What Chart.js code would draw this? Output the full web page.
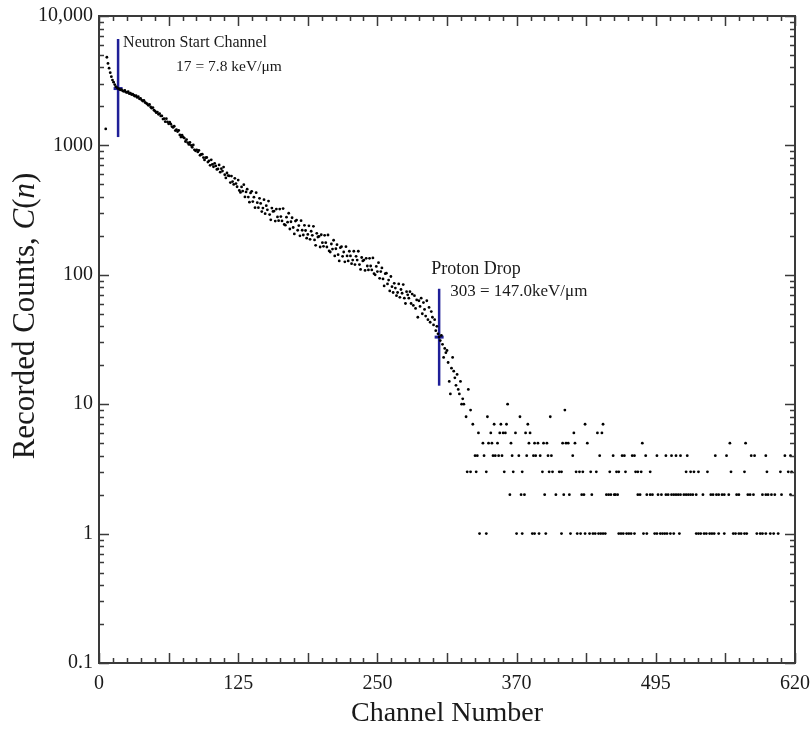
<!DOCTYPE html>
<html>
<head>
<meta charset="utf-8">
<script src="https://cdn.jsdelivr.net/npm/chart.js@4.4.0/dist/chart.umd.min.js"></script>
<style>
    html, body { margin: 0; padding: 0; background: #fff; }
</style>
</head>
<body>
<canvas id="graph" width="811" height="729"></canvas>
<script>
// counts per channel, starting at channel 6 (null = empty channel)
const firstChannel = 6;
const counts = [
    1340, 4800, 4300, 3950, 3650, 3400, 3200, 3080, 2950, 2850,
    2800, 2750, 2720, 2690, 2700, 2640, 2620, 2660, 2580, 2560,
    2600, 2510, 2530, 2470, 2490, 2440, 2400, 2420, 2350, 2380,
    2290, 2310, 2240, 2200, 2230, 2150, 2120, 2090, 2040, 2070,
    1980, 1940, 1960, 1870, 1840, 1790, 1810, 1740, 1760, 1690,
    1691, 1597, 1608, 1525, 1609, 1519, 1467, 1510, 1460, 1397,
    1378, 1406, 1303, 1323, 1279, 1305, 1205, 1160, 1198, 1158,
    1139, 1072, 1109, 1051, 1017, 1053, 1002, 968, 1009, 924,
    908, 925, 890, 914, 839, 852, 855, 805, 772, 804,
    806, 743, 760, 702, 774, 714, 684, 727, 694, 652,
    658, 706, 621, 661, 633, 680, 593, 561, 612, 585,
    581, 516, 579, 525, 499, 557, 507, 479, 540, 448,
    433, 478, 444, 497, 400, 437, 459, 399, 364, 429,
    442, 368, 398, 330, 431, 361, 330, 390, 356, 308,
    328, 381, 297, 342, 318, 371, 292, 266, 328, 309,
    311, 260, 322, 280, 262, 322, 282, 261, 325, 245,
    242, 279, 255, 299, 226, 257, 276, 232, 207, 260,
    265, 221, 240, 200, 262, 221, 203, 241, 220, 192,
    205, 239, 188, 217, 202, 237, 186, 169, 209, 196,
    198, 164, 204, 177, 166, 202, 177, 164, 203, 153,
    150, 173, 158, 185, 140, 159, 171, 143, 128, 162,
    165, 139, 150, 126, 165, 140, 128, 152, 140, 122,
    130, 152, 120, 139, 130, 152, 120, 110, 136, 128,
    130, 108, 134, 117, 109, 134, 117, 109, 135, 102,
    100, 116, 106, 124, 94, 106, 113, 93, 82, 102,
    103, 85, 91, 75, 97, 81, 73, 86, 79, 69,
    73, 85, 67, 77, 72, 84, 66, 60, 74, 70,
    66, 74, 60, 71, 58, 69, 55, 64, 47, 63,
    57, 66, 50, 61, 54, 48, 63, 45, 56, 43,
    52, 47, 41, 45, 37, 40, 35, 33, 31, 34,
    29, 23, 27, 25, 26, 21, 15, 12, 19, 23,
    18, 16, 14, 17, 13, 12, 15, 10, 11, 10,
    null, null, null, 13
];

// tail: channels holding low counts
const ones = [339, 345, 372, 377, 386, 388, 392, 398, 412, 420, 426, 429, 433, 437, 440, 442, 445, 447, 449, 451,
    463, 465, 467, 470, 472, 474, 477, 485, 488, 495, 497, 500, 502, 504, 506, 509, 512, 517, 532, 534, 536, 539,
    541, 544, 546, 548, 552, 557, 565, 567, 570, 572, 575, 577, 586, 589, 591, 594, 598, 601, 605];
const twos = [366, 376, 379, 397, 407, 414, 419, 430, 432, 439, 452, 454, 456, 459, 460, 462, 480, 482, 488, 491,
    493, 498, 501, 505, 507, 510, 512, 514, 516, 518, 521, 523, 525, 527, 529, 532, 538, 545, 547, 550, 552, 555,
    557, 561, 568, 570, 578, 580, 583, 591, 594, 596, 599, 602, 608, 616];
const threes = [328, 331, 336, 345, 361, 369, 377, 395, 401, 404, 410, 412, 425, 428, 431, 438, 443, 455, 461, 463,
    469, 478, 480, 483, 491, 523, 527, 530, 534, 542, 563, 575, 595, 607, 614, 617];
const fours = [335, 337, 343, 351, 353, 356, 359, 368, 374, 381, 387, 389, 393, 400, 403, 422, 446, 458, 466, 468,
    475, 477, 487, 497, 505, 510, 514, 518, 524, 549, 559, 581, 584, 594, 611, 616];
const fives = [342, 347, 350, 355, 367, 383, 388, 391, 396, 399, 413, 416, 418, 424, 435, 484, 562, 576];
const sixes = [338, 349, 357, 360, 362, 371, 380, 384, 423, 444, 448];
const sevens = [333, 352, 358, 363, 382, 433, 449];
const eights = [327, 346, 375, 402];
const nines = [331, 415];
const tens = [364];

// axis ticks
const xMax = 620;
const xTickStep = 12.4;
const xLabelIndex = [0, 10, 20, 30, 40, 50];
const xLabelText = ["0", "125", "250", "370", "495", "620"];
const yDecades = [0.1, 1, 10, 100, 1000, 10000];
const yLabelText = ["0.1", "1", "10", "100", "1000", "10,000"];

// annotation markers
const neutronChannel = 17;
const neutronSpan = [1160, 6640];
const neutronLevel = 2750;
const protonChannel = 303;
const protonSpan = [13.9, 78];
const protonLevel = 33;

const navy = "#1f1f98";
const serif = "'Liberation Serif', 'Times New Roman', serif";

const points = [];
counts.forEach((v, i) => {
    if (v !== null) points.push({x: firstChannel + i, y: v});
});
[ones, twos, threes, fours, fives, sixes, sevens, eights, nines, tens].forEach((row, k) => {
    row.forEach((c) => points.push({x: c, y: k + 1}));
});

const xTicks = [];
for (let i = 0; i * xTickStep <= xMax + 0.001; i++) xTicks.push(i * xTickStep);
const yTicks = [];
yDecades.forEach((d, k) => {
    if (k === yDecades.length - 1) { yTicks.push(d); return; }
    for (let m = 1; m <= 9; m++) yTicks.push(+(d * m).toPrecision(3));
});

const framePlugin = {
    id: "frame",
    afterDraw(chart) {
        const ctx = chart.ctx;
        const {left, right, top, bottom} = chart.chartArea;
        const xs = chart.scales.x;
        const ys = chart.scales.y;
        ctx.save();
        ctx.strokeStyle = "#3a3a3a";
        ctx.lineWidth = 1.5;
        ctx.beginPath();
        xTicks.forEach((v, i) => {
            const px = Math.round(xs.getPixelForValue(v)) + 0.5;
            const len = i % 5 === 0 ? 10 : 5;
            ctx.moveTo(px, bottom); ctx.lineTo(px, bottom - len);
            ctx.moveTo(px, top); ctx.lineTo(px, top + len);
        });
        yTicks.forEach((v) => {
            const py = Math.round(ys.getPixelForValue(v)) + 0.5;
            const len = yDecades.includes(v) ? 10 : 5;
            ctx.moveTo(left, py); ctx.lineTo(left + len, py);
            ctx.moveTo(right, py); ctx.lineTo(right - len, py);
        });
        ctx.stroke();
        ctx.lineWidth = 2;
        ctx.strokeRect(left, top, right - left, bottom - top);

        // axis titles
        ctx.fillStyle = "#1a1a1a";
        ctx.textBaseline = "alphabetic";
        ctx.textAlign = "center";
        ctx.font = "28px " + serif;
        ctx.fillText("Channel Number", (left + right) / 2, 721);

        const parts = [
            ["Recorded Counts, ", "normal"], ["C", "italic"], ["(", "normal"], ["n", "italic"], [")", "normal"]
        ];
        ctx.save();
        ctx.translate(34, 316);
        ctx.rotate(-Math.PI / 2);
        ctx.textAlign = "left";
        let total = 0;
        parts.forEach(([t, s]) => { ctx.font = s + " 31px " + serif; total += ctx.measureText(t).width; });
        let cx = -total / 2;
        parts.forEach(([t, s]) => {
            ctx.font = s + " 31px " + serif;
            ctx.fillText(t, cx, 0);
            cx += ctx.measureText(t).width;
        });
        ctx.restore();

        // annotation texts
        ctx.textAlign = "left";
        const nx = xs.getPixelForValue(neutronChannel);
        const ny = ys.getPixelForValue(neutronSpan[1]);
        ctx.font = "16px " + serif;
        ctx.fillText("Neutron Start Channel", nx + 5, ny + 8);
        ctx.font = "15.5px " + serif;
        ctx.fillText("17 = 7.8 keV/\u03bcm", nx + 58, ny + 32);

        const px = xs.getPixelForValue(protonChannel);
        const py = ys.getPixelForValue(protonSpan[1]);
        ctx.font = "18px " + serif;
        ctx.fillText("Proton Drop", px - 8, py - 15);
        ctx.font = "17px " + serif;
        ctx.fillText("303 = 147.0keV/\u03bcm", px + 11, py + 7);
        ctx.restore();
    }
};

const ctx = document.getElementById("graph").getContext("2d");
new Chart(ctx, {
    type: "scatter",
    data: {
        datasets: [
            {
                data: points,
                pointRadius: 1.4,
                pointBorderWidth: 0,
                pointBackgroundColor: "#000",
                borderColor: "#000"
            },
            {
                type: "line",
                data: [{x: neutronChannel, y: neutronSpan[0]}, {x: neutronChannel, y: neutronSpan[1]}],
                borderColor: navy,
                borderWidth: 2.5,
                pointRadius: 0
            },
            {
                data: [{x: neutronChannel, y: neutronLevel}],
                pointStyle: "line",
                pointRadius: 4.5,
                borderColor: navy,
                pointBorderWidth: 3
            },
            {
                type: "line",
                data: [{x: protonChannel, y: protonSpan[0]}, {x: protonChannel, y: protonSpan[1]}],
                borderColor: navy,
                borderWidth: 2.5,
                pointRadius: 0
            },
            {
                data: [{x: protonChannel, y: protonLevel}],
                pointStyle: "line",
                pointRadius: 4.5,
                borderColor: navy,
                pointBorderWidth: 3
            }
        ]
    },
    options: {
        responsive: false,
        animation: false,
        devicePixelRatio: 1,
        events: [],
        layout: {padding: {top: 16, right: 16, bottom: 0, left: 0}},
        plugins: {
            legend: {display: false},
            tooltip: {enabled: false}
        },
        scales: {
            x: {
                type: "linear",
                min: 0,
                max: xMax,
                grid: {display: false, drawTicks: false},
                border: {display: false},
                afterFit: (s) => { s.height = 66; s.paddingLeft = 0; s.paddingRight = 0; },
                afterBuildTicks: (s) => { s.ticks = xTicks.map((v) => ({value: v})); },
                ticks: {
                    autoSkip: false,
                    maxRotation: 0,
                    padding: 9,
                    color: "#1a1a1a",
                    font: {family: serif, size: 20},
                    callback: (v) => {
                        const k = xLabelIndex.indexOf(Math.round(v / xTickStep));
                        return k >= 0 && Math.abs(v / xTickStep - Math.round(v / xTickStep)) < 0.01 ? xLabelText[k] : "";
                    }
                }
            },
            y: {
                type: "logarithmic",
                min: 0.1,
                max: 10000,
                grid: {display: false, drawTicks: false},
                border: {display: false},
                afterFit: (s) => { s.width = 99; s.paddingTop = 0; s.paddingBottom = 0; },
                afterBuildTicks: (s) => { s.ticks = yTicks.map((v) => ({value: v})); },
                ticks: {
                    autoSkip: false,
                    padding: 6,
                    color: "#1a1a1a",
                    font: {family: serif, size: 20},
                    callback: (v) => {
                        const k = yDecades.findIndex((d) => Math.abs(d - v) / d < 1e-6);
                        return k >= 0 ? yLabelText[k] : "";
                    }
                }
            }
        }
    },
    plugins: [framePlugin]
});
</script>
</body>
</html>
